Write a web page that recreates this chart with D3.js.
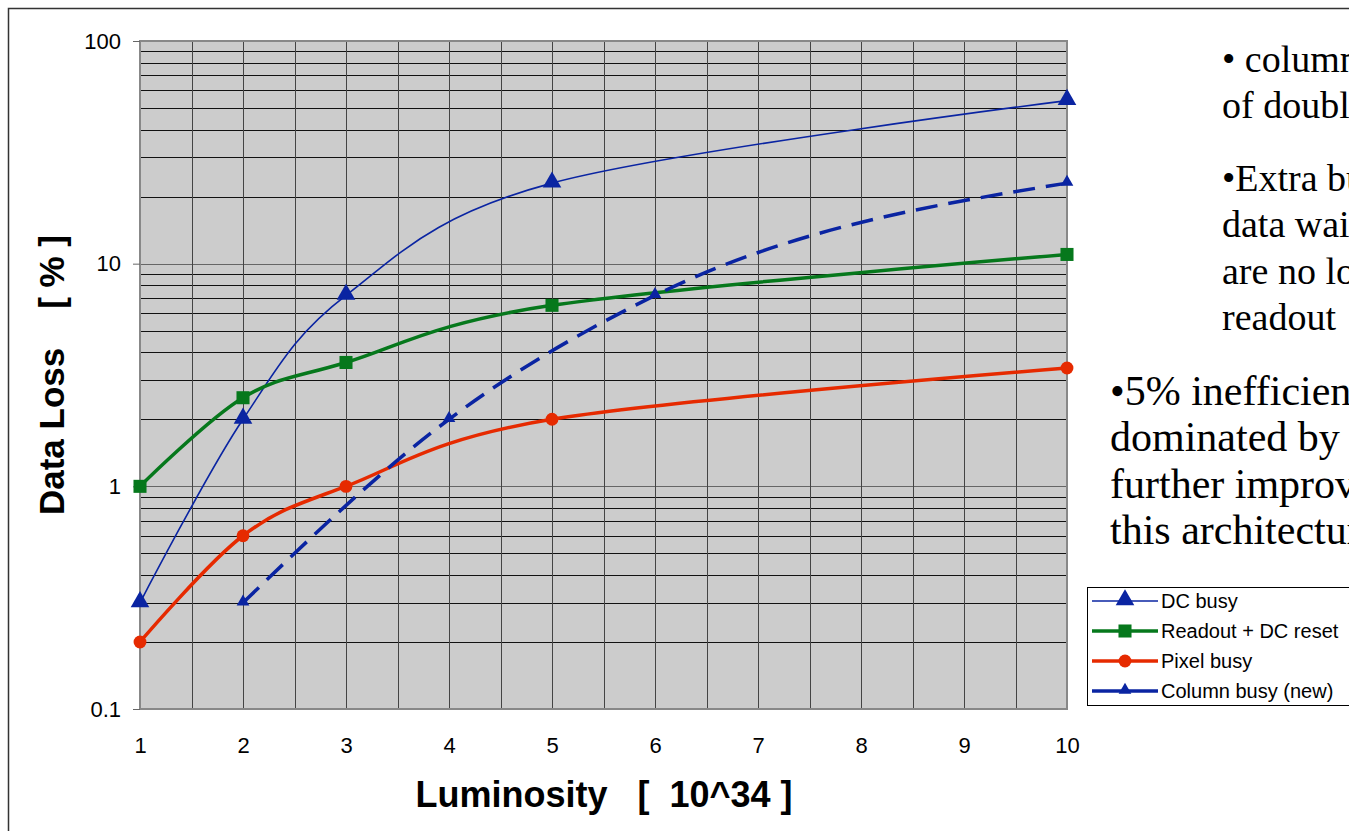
<!DOCTYPE html>
<html>
<head>
<meta charset="utf-8">
<script src="https://cdn.jsdelivr.net/npm/d3@7"></script>
<style>
  html, body { margin: 0; padding: 0; background: #fff; overflow: hidden; }
  svg { display: block; }
</style>
</head>
<body>
<svg id="chart" width="1349" height="831"></svg>
<script>
// Luminosity values (10^34) where each series has points
const dcBusyX      = [1, 2, 3, 5, 10];
const dcBusyY      = [0.3, 2.0, 7.2, 23, 54];
const readoutX     = [1, 2, 3, 5, 10];
const readoutY     = [1.0, 2.5, 3.6, 6.5, 11];
const pixelX       = [1, 2, 3, 5, 10];
const pixelY       = [0.2, 0.6, 1.0, 2.0, 3.4];
const columnX      = [2, 4, 6, 10];
const columnY      = [0.3, 2.0, 7.2, 23];

const seriesNames  = ["DC busy", "Readout + DC reset", "Pixel busy", "Column busy (new)"];
const xTickValues  = [1, 2, 3, 4, 5, 6, 7, 8, 9, 10];
const yTickValues  = [0.1, 1, 10, 100];
const yTickLabels  = ["0.1", "1", "10", "100"];

const noteLinesA = ["\u2022 column", "of double", "\u2022Extra buffer", "data waiting", "are no longer", "readout"];
const noteLinesB = ["\u20225% inefficiency", "dominated by", "further improvement", "this architecture"];

const svg = d3.select("#chart");
const sans = "Arial, 'Liberation Sans', sans-serif";

// slide frame
svg.append("rect")
  .attr("x", 8.5).attr("y", 8.5).attr("width", 1400).attr("height", 900)
  .attr("fill", "none").attr("stroke", "#333").attr("stroke-width", 1.5);

const plot = { left: 140, right: 1067, top: 41, bottom: 709 };

const x = d3.scaleLinear().domain([1, 10]).range([plot.left, plot.right]);
const y = d3.scaleLog().domain([0.1, 100]).range([plot.bottom, plot.top]);

// plot background
svg.append("rect")
  .attr("x", plot.left).attr("y", plot.top)
  .attr("width", plot.right - plot.left).attr("height", plot.bottom - plot.top)
  .attr("fill", "#cccccc");

// grid: horizontal log gridlines
const hGrid = [];
[0.1, 1, 10].forEach(d => { for (let k = 1; k <= 9; k++) hGrid.push(k * d); });
hGrid.push(100);
svg.append("g").selectAll("line").data(hGrid).join("line")
  .attr("x1", plot.left).attr("x2", plot.right)
  .attr("y1", d => Math.round(y(d)) + 0.5).attr("y2", d => Math.round(y(d)) + 0.5)
  .attr("stroke", d => [0.1, 1, 10, 100].some(m => Math.abs(m - d) < 1e-9) ? "#666" : "#111")
  .attr("stroke-width", 1);

// grid: vertical lines every half unit
const vGrid = d3.range(1, 10.001, 0.5);
svg.append("g").selectAll("line").data(vGrid).join("line")
  .attr("y1", plot.top).attr("y2", plot.bottom)
  .attr("x1", d => Math.round(x(d)) + 0.5).attr("x2", d => Math.round(x(d)) + 0.5)
  .attr("stroke", "#444").attr("stroke-width", 1);

// plot border
svg.append("rect")
  .attr("x", plot.left).attr("y", plot.top)
  .attr("width", plot.right - plot.left).attr("height", plot.bottom - plot.top)
  .attr("fill", "none").attr("stroke", "#888").attr("stroke-width", 2);

// axes
const yAxis = d3.axisLeft(y).tickValues(yTickValues)
  .tickFormat((d, i) => yTickLabels[i]).tickSize(7).tickPadding(12);
const gy = svg.append("g").attr("transform", `translate(${plot.left},0)`).call(yAxis);
gy.select(".domain").remove();
gy.selectAll(".tick line").attr("stroke", "#666");
gy.selectAll("text").attr("font-family", sans).attr("font-size", 22).attr("fill", "#000");

const xAxis = d3.axisBottom(x).tickValues(xTickValues).tickFormat(d3.format("d"))
  .tickSize(0).tickPadding(28);
const gx = svg.append("g").attr("transform", `translate(0,${plot.bottom})`).call(xAxis);
gx.select(".domain").remove();
gx.selectAll("text").attr("font-family", sans).attr("font-size", 22).attr("fill", "#000");

// axis titles
svg.append("text")
  .attr("x", 604).attr("y", 807).attr("text-anchor", "middle")
  .attr("font-family", sans).attr("font-weight", "bold").attr("font-size", 36)
  .attr("xml:space", "preserve")
  .text("Luminosity   [  10^34 ]");

svg.append("text")
  .attr("transform", "translate(64,375) rotate(-90)")
  .attr("text-anchor", "middle")
  .attr("font-family", sans).attr("font-weight", "bold").attr("font-size", 35)
  .attr("xml:space", "preserve")
  .text("Data Loss    [ % ]");

// series (the new column-busy estimate uses a monotone fit)
const blue = "#0a24a2", green = "#06781c", red = "#e62a00";
const smooth = d3.curveCatmullRom.alpha(0);
const series = [
  { name: seriesNames[0], xs: dcBusyX,  ys: dcBusyY,  color: blue,  width: 1.6, dash: null,    marker: "triangle", size: 150, curve: smooth },
  { name: seriesNames[1], xs: readoutX, ys: readoutY, color: green, width: 3.5, dash: null,    marker: "square",   size: 170, curve: smooth },
  { name: seriesNames[2], xs: pixelX,   ys: pixelY,   color: red,   width: 3.5, dash: null,    marker: "circle",   size: 130, curve: smooth },
  { name: seriesNames[3], xs: columnX,  ys: columnY,  color: blue,  width: 3.5, dash: "22,11", marker: "triangle", size: 70,  curve: d3.curveMonotoneX }
];

const symbolType = { triangle: d3.symbolTriangle, square: d3.symbolSquare, circle: d3.symbolCircle };

series.forEach(s => {
  const pts = s.xs.map((v, i) => [v, s.ys[i]]);
  const line = d3.line().x(d => x(d[0])).y(d => y(d[1])).curve(s.curve);
  svg.append("path")
    .datum(pts)
    .attr("d", line)
    .attr("fill", "none")
    .attr("stroke", s.color)
    .attr("stroke-width", s.width)
    .attr("stroke-dasharray", s.dash)
    .attr("stroke-linejoin", "round");
  svg.append("g").selectAll("path").data(pts).join("path")
    .attr("transform", d => `translate(${x(d[0])},${y(d[1]) + (s.marker === "triangle" ? -1 : 0)})`)
    .attr("d", d3.symbol().type(symbolType[s.marker]).size(s.size))
    .attr("fill", s.color);
});

// legend
const lg = svg.append("g");
lg.append("rect")
  .attr("x", 1087.5).attr("y", 587.5).attr("width", 300).attr("height", 118)
  .attr("fill", "#fff").attr("stroke", "#000").attr("stroke-width", 1);
series.forEach((s, i) => {
  const cy = 601 + i * 30;
  lg.append("line")
    .attr("x1", 1092).attr("x2", 1158).attr("y1", cy).attr("y2", cy)
    .attr("stroke", s.color).attr("stroke-width", s.width);
  lg.append("path")
    .attr("transform", `translate(1125,${cy + (s.marker === "triangle" ? -1 : 0)})`)
    .attr("d", d3.symbol().type(symbolType[s.marker]).size(s.size))
    .attr("fill", s.color);
  lg.append("text")
    .attr("x", 1161).attr("y", cy + 7)
    .attr("font-family", sans).attr("font-size", 20).attr("fill", "#000")
    .text(s.name);
});

// notes beside the chart
const noteFont = "'Times New Roman', 'Liberation Serif', serif";
const notesA = [72, 118, 191, 237, 284, 330];
const notesB = [405, 451, 498, 544];
svg.append("g").selectAll("text").data(noteLinesA).join("text")
  .attr("x", 1222).attr("y", (d, i) => notesA[i])
  .attr("font-family", noteFont).attr("font-size", 38).attr("fill", "#000")
  .text(d => d);
svg.append("g").selectAll("text").data(noteLinesB).join("text")
  .attr("x", 1110).attr("y", (d, i) => notesB[i])
  .attr("font-family", noteFont).attr("font-size", 42).attr("fill", "#000")
  .text(d => d);
</script>
</body>
</html>
